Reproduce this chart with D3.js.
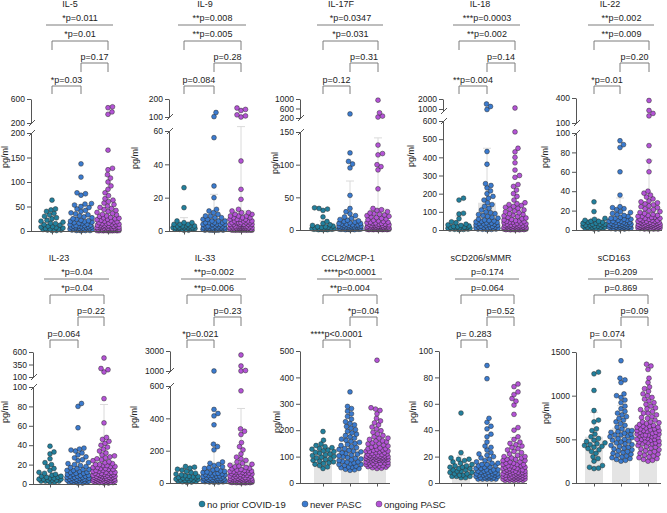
<!DOCTYPE html>
<html><head><meta charset="utf-8">
<script src="https://cdn.jsdelivr.net/npm/d3@7"></script>
<style>
html,body{margin:0;padding:0;background:#fff;}
svg{display:block;font-family:"Liberation Sans",Arial,Helvetica,sans-serif;}
</style></head><body>
<svg id="chart" width="667" height="513"></svg>
<script>
const groups = ["no prior COVID-19", "never PASC", "ongoing PASC"];
const colors = ["#22809d", "#3b7bcf", "#b453d6"];
const titles = ["IL-5", "IL-9", "IL-17F", "IL-18", "IL-22", "IL-23", "IL-33", "CCL2/MCP-1", "sCD206/sMMR", "sCD163"];

const pAll = ["*p=0.011", "**p=0.008", "*p=0.0347", "***p=0.0003", "**p=0.002", "*p=0.04", "**p=0.002", "****p<0.0001", "p=0.174", "p=0.209"];
const p13 = ["*p=0.01", "**p=0.005", "*p=0.031", "**p=0.002", "**p=0.009", "*p=0.04", "**p=0.006", "**p=0.004", "p=0.064", "p=0.869"];
const p23 = ["p=0.17", "p=0.28", "p=0.31", "p=0.14", "p=0.20", "p=0.22", "p=0.23", "*p=0.04", "p=0.52", "p=0.09"];
const p12 = ["*p=0.03", "p=0.084", "p=0.12", "**p=0.004", "*p=0.01", "p=0.064", "*p=0.021", "****p<0.0001", "p= 0.283", "p= 0.074"];

// tick labels per panel (lower segment, upper segment)
const lowTicks = [[0,50,100,150,200],[0,20,40,60],[0,50,100,150],[0,100,200,300,400,500,600],[0,20,40,60,80,100],
                  [0,20,40,60,80,100],[0,200,400,600],[0,100,200,300,400,500],[0,20,40,60,80,100],[0,500,1000,1500]];
const upTicks = [[200,600],[100,200],[200,600,1000],[1000,2000],[100,400],[100,350,600],[1000,3000],null,null,null];

// bar means and SD per panel [no prior, never, ongoing]
const means = [[14,24,37],[3,8,12.5],[5,18,33],[32,150,85],[6,13,20],[10.5,15.5,24],[35,85,131],[105,140,135],[12,16,17.5],[530,635,640]];
const sds   = [[14,30,75],[5,14,60],[9,57,108],[45,300,155],[6,20,52],[9,19,58],[30,155,330],[35,70,65],[9,16,17],[280,250,270]];

// values (pg/ml)
const il5 = [
 [63,45,43,40,36,33,30,27,25,22,20,18,16,15,13,12,10,9,8,7,6,5,4,4,3,3,2,2,1,1],
 [137,110,78,76,73,56,55,53,50,48,45,42,40,37,35,33,31,29,27,25,24,22,21,20,19,18,17,16,15,14,13,12,11,11,10,10,9,9,8,8,7,7,6,6,5,5,5,4,4,4,3,3,3,2,2,2,1,1,1,0.5],
 [470,455,385,345,165,128,125,115,108,100,92,85,78,72,66,63,60,57,54,51,48,46,44,42,40,38,36,34,33,31,30,28,27,26,25,24,23,22,21,20,19,18,17,16,15,15,14,14,13,12,12,11,11,10,10,9,9,8,8,7,7,7,6,6,6,5,5,5,4,4,4,3,3,3,3,2,2,2,2,1,1,1,1,1,0.5,0.5,0.5,0.5,0.5,0.5]
];
const il9 = [
 [26,14,6,5,5,4,4,4,3,3,3,3,3,2,2,2,2,2,2,2,1.5,1.5,1.5,1,1,1,1,1,0.5,0.5],
 [125,102,56,27,20,13,12,11,10,9,9,8,8,7,7,6,6,6,5,5,5,5,4,4,4,4,4,3,3,3,3,3,3,2,2,2,2,2,2,2,2,1.5,1.5,1.5,1.5,1.5,1,1,1,1,1,1,1,0.5,0.5,0.5,0.5,0.5,0.5,0.5],
 [150,142,136,112,106,100,42,25,19,13,12,11,11,10,10,9,9,9,8,8,8,7,7,7,7,6,6,6,6,5,5,5,5,5,5,4,4,4,4,4,4,4,3,3,3,3,3,3,3,3,3,2,2,2,2,2,2,2,2,2,2,2,2,1.5,1.5,1.5,1.5,1.5,1.5,1.5,1,1,1,1,1,1,1,1,1,1,0.5,0.5,0.5,0.5,0.5,0.5,0.5,0.5,0.5,0.5]
];
const il17f = [
 [34,33,32,30,20,13,10,8,7,6,5,5,4,4,3,3,3,2,2,2,2,1.5,1.5,1,1,1,1,0.5,0.5,0.5],
 [370,118,105,101,95,53,33,28,25,22,20,18,16,15,14,13,12,11,10,10,9,9,8,8,7,7,7,6,6,6,5,5,5,5,4,4,4,4,3,3,3,3,3,2,2,2,2,2,2,1.5,1.5,1.5,1.5,1,1,1,1,0.5,0.5,0.5],
 [950,420,280,240,130,117,115,100,97,92,63,33,31,30,28,26,25,24,23,22,21,20,19,18,17,16,15,14,13,12,12,11,11,10,10,9,9,9,8,8,8,7,7,7,6,6,6,6,5,5,5,5,5,4,4,4,4,4,4,3,3,3,3,3,3,3,2,2,2,2,2,2,2,2,1.5,1.5,1.5,1.5,1.5,1,1,1,1,1,1,0.5,0.5,0.5,0.5,0.5]
];
const il18 = [
 [175,165,92,88,62,45,40,32,28,25,22,20,18,16,15,14,13,12,11,10,9,9,8,7,6,5,5,4,3,2],
 [1500,1250,950,432,362,255,245,232,215,200,185,175,165,150,140,130,120,110,100,95,90,85,80,75,70,65,60,55,52,50,48,45,42,40,38,36,34,32,30,28,26,24,22,20,18,16,15,14,12,11,10,9,8,7,6,5,5,4,3,2],
 [1100,540,450,430,400,370,330,300,290,250,240,220,200,185,165,150,145,140,135,130,125,120,115,110,105,100,95,90,86,82,78,74,70,66,62,58,55,52,50,48,46,44,42,40,38,36,34,32,30,28,27,26,25,24,23,22,21,20,19,18,17,16,15,14,13,12,12,11,11,10,10,9,9,8,8,7,7,6,6,5,5,4,4,3,3,2,2,1,1,1]
];
const il22 = [
 [29,19,12,11,10,9,9,8,8,7,7,6,6,6,5,5,5,4,4,4,3,3,3,3,2,2,2,2,1,1],
 [92,88,85,60,36,24,23,22,21,19,18,17,16,15,14,13,12,12,11,11,10,10,9,9,9,8,8,8,7,7,7,6,6,6,6,5,5,5,5,5,4,4,4,4,4,3,3,3,3,3,2,2,2,2,2,1.5,1.5,1,1,1],
 [370,250,215,185,87,71,60,40,38,36,34,32,30,29,28,27,26,25,24,23,22,21,20,19,18,17,16,15,15,14,14,13,13,12,12,11,11,10,10,10,9,9,9,8,8,8,8,7,7,7,7,6,6,6,6,6,5,5,5,5,5,5,4,4,4,4,4,4,3,3,3,3,3,3,3,2,2,2,2,2,2,2,1.5,1.5,1.5,1.5,1,1,1,1]
];
const il23 = [
 [39,33,31,26,22,20,18,16,14,12,11,10,9,8,8,7,7,6,6,5,5,5,4,4,4,3,3,3,2,2],
 [83,80,58,37,36,35,34,32,30,28,27,25,24,22,21,20,19,18,17,16,15,15,14,14,13,12,12,11,11,10,10,9,9,8,8,8,7,7,7,6,6,6,5,5,5,5,4,4,4,4,3,3,3,3,2,2,2,2,1,1],
 [480,270,245,200,88,63,48,46,44,42,40,38,36,34,32,30,29,28,27,26,25,24,23,22,21,20,20,19,19,18,18,17,17,16,16,15,15,14,14,13,13,12,12,12,11,11,11,10,10,10,9,9,9,9,8,8,8,8,7,7,7,7,6,6,6,6,6,5,5,5,5,5,4,4,4,4,4,3,3,3,3,3,2,2,2,2,1.5,1.5,1,1]
];
const il33 = [
 [102,98,92,85,80,72,65,60,55,50,45,42,40,38,35,32,30,28,26,24,22,20,18,16,14,12,10,8,6,4],
 [1000,455,430,415,360,240,225,205,130,122,115,108,100,95,90,85,80,75,72,68,65,62,60,58,55,52,50,48,46,44,42,40,38,36,34,32,30,28,27,26,25,24,22,20,19,18,17,16,15,14,13,12,11,10,9,8,7,6,5,4],
 [2600,1500,1050,1000,570,335,320,300,250,225,205,180,160,150,140,130,122,116,110,105,100,96,92,88,84,80,78,76,74,72,70,68,66,64,62,60,58,56,54,52,50,48,46,44,42,40,38,36,34,32,30,29,28,27,26,25,24,23,22,21,20,19,18,17,16,15,14,13,12,11,10,10,9,9,8,8,7,7,6,6,5,5,4,4,3,3,2,2,1,1]
];
const ccl2 = [
 [195,162,148,142,138,134,131,128,125,122,119,116,113,110,107,104,101,98,95,92,89,86,83,80,77,74,71,66,61,55],
 [345,290,282,272,262,252,242,232,226,220,214,208,202,196,190,185,180,175,170,166,162,158,154,150,146,142,138,134,130,127,124,121,118,115,112,109,106,103,100,97,94,91,88,85,82,79,76,73,70,67,64,61,58,55,52,50,48,60,70,80],
 [465,285,280,275,262,245,235,228,220,212,205,198,192,186,180,175,170,165,160,156,152,148,144,140,136,133,130,127,124,121,118,115,112,110,108,106,104,102,100,98,96,94,92,90,88,86,84,82,80,78,76,74,72,70,68,66,64,62,60,58,56,55,100,105,110,115,120,125,95,97,99,101,103,90,92,85,87,75,77,65,67,120,130,140,150,160,170,88,93,98]
];
const scd206 = [
 [53,23,19,18,18,17,16,15,14,13,13,12,12,11,11,10,10,9,9,8,8,7,7,6,6,5,5,5,4,4],
 [89,79,49,46,43,41,37,35,31,28,27,25,23,22,21,20,19,18,17,16,15,15,14,14,13,13,12,12,11,11,10,10,10,9,9,9,8,8,8,7,7,7,7,6,6,6,6,5,5,5,5,4,4,4,4,3,3,3,3,3],
 [75,73,69,67,64,62,59,52,42,40,35,33,31,30,29,28,27,26,25,24,23,22,21,20,20,19,19,18,18,17,17,16,16,15,15,14,14,14,13,13,13,12,12,12,11,11,11,10,10,10,10,9,9,9,9,8,8,8,8,7,7,7,7,7,6,6,6,6,6,5,5,5,5,5,4,4,4,4,4,3,3,3,3,3,3,2,2,2,2,2]
];
const scd163 = [
 [1270,1250,1060,830,720,700,620,600,560,530,510,490,475,460,450,440,430,420,410,395,380,360,340,300,280,250,200,180,170,165],
 [1400,1200,1180,1150,1020,1000,980,950,920,880,850,820,800,780,760,740,720,700,680,660,640,620,600,590,580,570,560,550,540,530,520,510,500,490,480,470,460,450,440,430,420,410,400,390,380,370,360,350,340,330,320,310,300,290,280,270,260,250,550,600],
 [1360,1340,1300,1200,1150,1100,1080,1050,1020,1000,980,960,940,920,900,880,860,840,820,800,780,760,740,720,700,690,680,670,660,650,640,630,620,610,600,590,580,570,560,550,540,530,520,510,500,490,480,470,460,450,440,430,420,410,400,390,380,370,360,350,340,330,320,310,300,290,280,270,260,250,600,620,640,580,560,540,520,500,480,460,700,650,550,450,750,800,850,500,600,550]
];
const panelData = [il5, il9, il17f, il18, il22, il23, il33, ccl2, scd206, scd163];

// ---------- layout (pixel geometry) ----------
const layout = [
 {ax:31,  cx:[52,81,108],  dy:0,   low:[0,200,231,133], up:[200,600,123,99],   tx:70,  lx:5,   ly:157},
 {ax:169, cx:[184,214,241],dy:0,   low:[0,60,231,131],  up:[100,200,117,99],   tx:205, lx:135, ly:158},
 {ax:300, cx:[323,350,378],dy:0,   low:[0,150,230,132], up:[200,1000,118,99],  tx:341, lx:275, ly:163},
 {ax:443, cx:[459,487,515],dy:0,   low:[0,600,230,121], up:[800,2000,111,99],  tx:480, lx:411, ly:156},
 {ax:576, cx:[594,620,649],dy:0,   low:[0,100,230,133], up:[100,400,123,98],   tx:610, lx:545, ly:157},
 {ax:33,  cx:[50,78,104],  dy:254, low:[0,100,484,387], up:[100,600,377,352],  tx:59,  lx:5,   ly:412},
 {ax:170, cx:[187,214,241],dy:254, low:[0,600,483,386], up:[1000,3000,371,351],tx:205, lx:134, ly:417},
 {ax:300, cx:[323,350,377],dy:254, low:[0,500,483,351], up:null,               tx:348, lx:277, ly:422},
 {ax:439, cx:[461,487,514],dy:254, low:[0,100,483,351], up:null,               tx:481, lx:413, ly:412},
 {ax:576, cx:[594,621,648],dy:254, low:[0,1500,483,352],up:null,               tx:614, lx:546, ly:413}
];

const svg = d3.select("#chart");
const AXIS = "#555", BRACK = "#7d7d7d", TXT = "#222";
const R = 2.4, BARW = 18;

function makeY(p) {
  const lo = d3.scaleLinear().domain([p.low[0], p.low[1]]).range([p.low[2], p.low[3]]);
  if (!p.up) return {f: v => lo(v), lo, up: null};
  const up = d3.scaleLinear().domain([p.up[0], p.up[1]]).range([p.up[2], p.up[3]]);
  const gap = d3.scaleLinear().domain([p.low[1], Math.max(p.up[0], p.low[1] + 1e-9)]).range([p.low[3], p.up[2]]);
  return {f: v => v <= p.low[1] ? lo(v) : (v >= p.up[0] ? up(v) : gap(v)), lo, up};
}

function swarm(vals, yf, cx, r, maxHalf) {
  const pts = vals.map((v, i) => ({v, i, y: yf(v)})).sort((a, b) => b.y - a.y || a.i - b.i);
  const placed = [];
  const dmin = 2 * r * 0.92;
  const steps = Math.ceil(maxHalf / 0.5) * 2;
  for (const p of pts) {
    let best = 0, bestScore = -Infinity;
    for (let k = 0; k <= steps; k++) {
      const off = (k % 2 ? 1 : -1) * Math.ceil(k / 2) * 0.5;
      let minD = Infinity;
      for (const q of placed) {
        const ddy = q.y - p.y;
        if (Math.abs(ddy) >= dmin) continue;
        const d = Math.hypot(q.x - (cx + off), ddy);
        if (d < minD) minD = d;
      }
      if (minD >= dmin) { best = off; bestScore = Infinity; break; }
      if (minD > bestScore) { bestScore = minD; best = off; }
    }
    p.x = cx + best;
    placed.push(p);
  }
  return pts;
}

layout.forEach((L, pi) => {
  const g = svg.append("g");
  const Y = makeY(L);
  const y0 = L.low[2];
  const xs = d3.scaleOrdinal().domain(groups).range(L.cx);

  // bars
  g.selectAll("rect.bar").data(groups).join("rect")
    .attr("x", d => xs(d) - BARW / 2).attr("width", BARW)
    .attr("y", (d, i) => Y.f(means[pi][i]))
    .attr("height", (d, i) => y0 - Y.f(means[pi][i]))
    .attr("fill", "#e4e4e4");

  // SD whiskers
  groups.forEach((gn, i) => {
    const yt = Y.f(means[pi][i] + sds[pi][i]);
    const yb = Y.f(means[pi][i]);
    g.append("line").attr("x1", xs(gn)).attr("x2", xs(gn)).attr("y1", yb).attr("y2", yt)
      .attr("stroke", "#dadada").attr("stroke-width", 1);
    g.append("line").attr("x1", xs(gn) - 4).attr("x2", xs(gn) + 4).attr("y1", yt).attr("y2", yt)
      .attr("stroke", "#dadada").attr("stroke-width", 1);
  });

  // dots
  groups.forEach((gn, i) => {
    const pts = swarm(panelData[pi][i], Y.f, xs(gn), R, 11);
    g.append("g").selectAll("circle").data(pts).join("circle")
      .attr("cx", d => d.x).attr("cy", d => d.y).attr("r", R)
      .attr("fill", colors[i]).attr("stroke", "#2b2b2b").attr("stroke-width", 0.5);
  });

  // y axes
  const styleAxis = sel => {
    sel.selectAll("path.domain").attr("stroke", AXIS);
    sel.selectAll(".tick line").attr("stroke", AXIS);
    sel.selectAll(".tick text").attr("fill", TXT).attr("font-size", "8.5px")
      .attr("font-family", '"Liberation Sans",Arial,sans-serif');
  };
  const ya = g.append("g").attr("transform", `translate(${L.ax},0)`)
    .call(d3.axisLeft(Y.lo).tickValues(lowTicks[pi]).tickSize(4).tickSizeOuter(0).tickPadding(2).tickFormat(d3.format("d")));
  styleAxis(ya);
  if (Y.up) {
    const yu = g.append("g").attr("transform", `translate(${L.ax},0)`)
      .call(d3.axisLeft(Y.up).tickValues(upTicks[pi]).tickSize(4).tickSizeOuter(0).tickPadding(2).tickFormat(d3.format("d")));
    styleAxis(yu);
    [L.low[3], L.up[2]].forEach(yy => {
      g.append("line").attr("x1", L.ax - 2).attr("y1", yy + 3).attr("x2", L.ax + 4).attr("y2", yy - 3)
        .attr("stroke", AXIS).attr("stroke-width", 1);
    });
  }

  // x axis
  g.append("line").attr("x1", L.ax).attr("x2", L.cx[2] + 13).attr("y1", y0 + 0.5).attr("y2", y0 + 0.5).attr("stroke", AXIS);
  const xa = g.append("g").attr("transform", `translate(0,${y0 + 0.5})`)
    .call(d3.axisBottom(xs).tickSize(3).tickSizeOuter(0).tickFormat(""));
  xa.select("path.domain").remove();
  xa.selectAll(".tick line").attr("stroke", AXIS);

  // y label
  g.append("text").attr("transform", `translate(${L.lx + 3},${L.ly}) rotate(-90)`)
    .attr("text-anchor", "middle").attr("font-size", "9px").attr("fill", TXT).text("pg/ml");

  // title and significance annotations
  const dy = L.dy;
  const c0 = L.cx[0], c1 = L.cx[1], c2 = L.cx[2];
  const txt = (x, y, s) => g.append("text").attr("x", x).attr("y", y).attr("text-anchor", "middle")
    .attr("font-size", "9px").attr("fill", TXT).text(s);
  txt(L.tx, 6.5 + dy, titles[pi]);
  txt((c0 + c2) / 2, 20.5 + dy, pAll[pi]);
  g.append("line").attr("x1", c0 - 6).attr("x2", c2 + 5).attr("y1", 25 + dy).attr("y2", 25 + dy).attr("stroke", BRACK);
  const bracket = (xa1, xb, yTop, yLeg) => g.append("path")
    .attr("d", `M${xa1},${yLeg}V${yTop}H${xb}V${yLeg}`).attr("fill", "none").attr("stroke", BRACK);
  txt((c0 + c2) / 2, 37 + dy, p13[pi]);
  bracket(c0, c2, 41 + dy, 50 + dy);
  txt((c1 + c2) / 2, 60 + dy, p23[pi]);
  bracket(c1, c2, 63 + dy, 72 + dy);
  txt((c0 + c1) / 2, 82.5 + dy, p12[pi]);
  bracket(c0, c1, 86 + dy, 94 + dy);
});

// legend
const legX = [202, 305, 379];
const lg = svg.append("g");
groups.forEach((gn, i) => {
  lg.append("circle").attr("cx", legX[i]).attr("cy", 504).attr("r", 3).attr("fill", colors[i])
    .attr("stroke", "#2b2b2b").attr("stroke-width", 0.4);
  lg.append("text").attr("x", legX[i] + 5).attr("y", 507.5).attr("font-size", "9.5px").attr("fill", TXT).text(gn);
});
</script>
</body></html>
